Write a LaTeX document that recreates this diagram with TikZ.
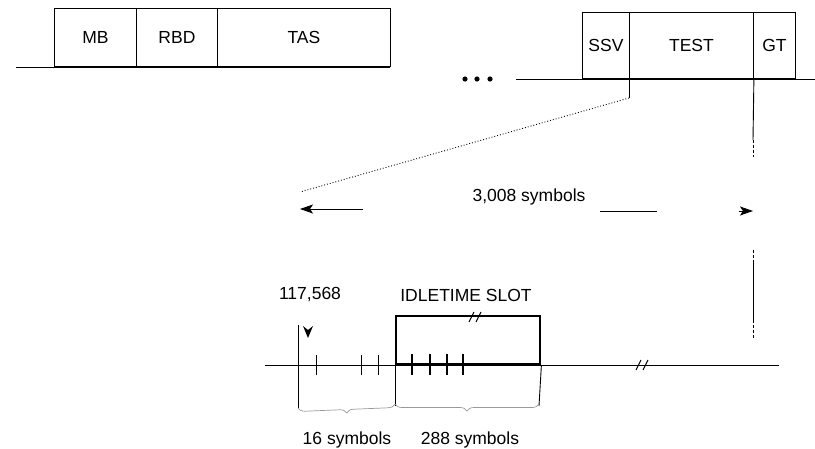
\documentclass[tikz,border=0pt]{standalone}
\usepackage{fontspec}
\setmainfont{Liberation Sans}
\usetikzlibrary{arrows.meta,decorations.pathreplacing}
\begin{document}
\begin{tikzpicture}[x=1pt,y=-1pt,
  every node/.style={font=\fontsize{17.5}{20}\selectfont},
  ln/.style={line width=0.9pt},
  fld/.style={draw,line width=0.9pt,inner sep=0pt,minimum height=58pt,anchor=south west},
  fld2/.style={draw,line width=0.9pt,inner sep=0pt,minimum height=66pt,anchor=south west},
  tick/.style={line width=0.9pt},
  brk/.style={line width=1pt},
  brc/.style={draw=black!40,line width=0.7pt,decorate,decoration={brace,mirror,amplitude=7pt}},
  tip/.style={-{Stealth[length=13pt,width=9pt,inset=3pt]}},
  lbl/.style={inner sep=0pt}]
\useasboundingbox (0,0) rectangle (815,448);
% ---- upper left frame ----
\coordinate (L0) at (16,67);
\coordinate (L1) at (390,67);
\draw[ln] (L0) -- (L1);
\node[fld,minimum width=82pt] (mb) at (54,67) {MB};
\node[fld,minimum width=81pt] (rbd) at (136,67) {RBD};
\node[fld,minimum width=173pt] (tas) at (217,67) {TAS};
% dots
\foreach \x in {465,477,490} \fill (\x,79) circle (2.6pt);
% ---- upper right frame ----
\coordinate (R0) at (516,79);
\coordinate (R1) at (815,79);
\draw[ln] (R0) -- (R1);
\node[fld2,minimum width=47pt] (ssv) at (582,79) {SSV};
\node[fld2,minimum width=124pt] (test) at (629,79) {TEST};
\node[fld2,minimum width=42pt] (gt) at (753,79) {GT};
% ---- projection lines ----
\coordinate (P1) at (629,98);
\coordinate (P2) at (300,192);
\draw[ln] (test.south west) -- (P1);
\draw[ln,dotted] (P1) -- (P2);
\coordinate (Q1) at (753,140);
\coordinate (Q2) at (753,157);
\coordinate (Q3) at (753,250);
\coordinate (Q4) at (753,262);
\coordinate (Q5) at (753,320);
\coordinate (Q6) at (753,338);
\draw[ln] (test.south east) -- (Q1);
\draw[ln,dash pattern=on 3pt off 2pt] (Q1) -- (Q2);
\draw[ln,dash pattern=on 3pt off 2pt] (Q3) -- (Q4);
\draw[ln] (Q4) -- (Q5);
\draw[ln,dash pattern=on 3pt off 2pt] (Q5) -- (Q6);
% ---- 3,008 symbols ----
\node[lbl] (sym) at (529,197) {3,008 symbols};
\coordinate (A0) at (363,209);
\coordinate (A1) at (300,209);
\draw[ln,tip] (A0) -- (A1);
\coordinate (B0) at (600,211);
\coordinate (B1) at (657,211);
\draw[ln] (B0) -- (B1);
\coordinate (B2) at (739,211);
\coordinate (B3) at (753,211);
\draw[ln,tip] (B2) -- (B3);
% ---- lower time axis ----
\coordinate (X0) at (265,365);
\coordinate (X1) at (779,365);
\draw[ln] (X0) -- (X1);
\node[draw,line width=2.4pt,inner sep=0pt,minimum width=144pt,minimum height=48pt,anchor=south west] (idle) at (395,365) {};
\node[lbl] (idlel) at (466,295) {IDLETIME SLOT};
\node[lbl] (num) at (310,295) {117,568};
% break marks
\foreach \bx/\by in {476/317,643/365} {
  \draw[brk] (\bx-7,\by+5) -- (\bx-2,\by-5);
  \draw[brk] (\bx,\by+5) -- (\bx+5,\by-5);
}
% ticks
\foreach \tx in {316,361,378} \draw[tick] (\tx,355) -- (\tx,375);
\foreach \tx in {412,430,447,463} \draw[tick,line width=1.2pt] (\tx,354) -- (\tx,375);
% long verticals
\coordinate (V1a) at (298,325);
\coordinate (V1b) at (298,408);
\draw[ln] (V1a) -- (V1b);
\coordinate (V2b) at (395,406);
\draw[ln] (idle.south west) -- (V2b);
\coordinate (V3b) at (539,406);
\draw[ln] (idle.south east) -- (V3b);
% down arrowhead
\fill (308,338) -- (303,326) -- (308,330) -- (313,326) -- cycle;
% braces
\draw[brc] (V1b) -- ([yshift=2pt]V2b);
\draw[brc] ([yshift=2pt]V2b) -- ([yshift=2pt]V3b);
\node[lbl] (s16) at (347,440) {16 symbols};
\node[lbl] (s288) at (470,440) {288 symbols};
\end{tikzpicture}
\end{document}
